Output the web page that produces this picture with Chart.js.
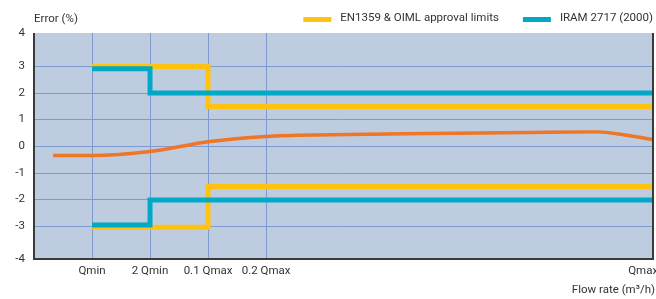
<!DOCTYPE html>
<html>
<head>
<meta charset="utf-8">
<script src="https://cdn.jsdelivr.net/npm/chart.js@4"></script>
<style>
  html, body { margin: 0; padding: 0; background: #fff; }
  #wrap { width: 656px; height: 299px; position: relative; }
</style>
</head>
<body>
<div id="wrap"><canvas id="chart"></canvas></div>
<script>
// ---------------- data ----------------
// x positions are in "grid steps" from the left edge of the plot
const xTickPos = [1, 2, 3, 4, 10.5];
const xTickLabels = ['Qmin', '2 Qmin', '0.1 Qmax', '0.2 Qmax', 'Qmax'];
const X_END = 10.67;

const yTickValues = [-4.24, -3, -2, -1, 0, 1, 2, 3, 4.24];

// EN1359 & OIML approval limits
const enUpperX = [1, 3, X_END];
const enUpperY = [2.98, 1.48, 1.48];
const enLowerX = [1, 3, X_END];
const enLowerY = [-3.05, -1.52, -1.52];

// IRAM 2717 (2000)
const iramUpperX = [1, 2, X_END];
const iramUpperY = [2.9, 1.99, 1.99];
const iramLowerX = [1, 2, X_END];
const iramLowerY = [-2.96, -2.03, -2.03];

// meter error curve
const curveX = [0.33, 1, 2, 3, 4, 5.1, 6.83, 8.55, 9.71, 10.19, X_END];
const curveY = [-0.36, -0.36, -0.21, 0.16, 0.36, 0.42, 0.47, 0.51, 0.53, 0.41, 0.24];

const legendLabels = ['EN1359 & OIML approval limits', 'IRAM 2717 (2000)'];

// ---------------- styles ----------------
const YELLOW = '#FFC20E';
const TEAL = '#00A9C8';
const ORANGE = '#EE7624';
const PLOT_BG = '#BECCE0';
const GRID = '#7F9AD0';
const AXIS = '#3a3a3a';
const TEXT = '#333333';
const FONT = "Roboto, 'Liberation Sans', sans-serif";
const FONT_SIZE = 11.5;

const pts = (xs, ys) => xs.map((x, i) => ({ x: x, y: ys[i] }));

const stepLine = (label, xs, ys, color, order) => ({
  label: label,
  data: pts(xs, ys),
  borderColor: color,
  borderWidth: 5,
  pointRadius: 0,
  stepped: true,
  fill: false,
  order: order
});

// ---------------- plugin: background, borders, titles, legend ----------------
const decor = {
  id: 'decor',
  beforeDatasetsDraw(chart) {
    const { ctx, chartArea: a } = chart;
    ctx.save();
    ctx.fillStyle = PLOT_BG;
    ctx.fillRect(a.left, a.top, a.right - a.left, a.bottom - a.top);
    // grid lines on top of the fill
    const xs = chart.scales.x, ys = chart.scales.y;
    ctx.strokeStyle = GRID;
    ctx.lineWidth = 1;
    ctx.beginPath();
    xTickPos.slice(0, 4).forEach(v => {
      const px = Math.round(xs.getPixelForValue(v)) + 0.5;
      ctx.moveTo(px, a.top); ctx.lineTo(px, a.bottom);
    });
    yTickValues.slice(1, -1).forEach(v => {
      const py = Math.round(ys.getPixelForValue(v)) + 0.5;
      ctx.moveTo(a.left, py); ctx.lineTo(a.right, py);
    });
    ctx.stroke();
    ctx.restore();
  },
  afterDraw(chart) {
    const { ctx, chartArea: a } = chart;
    ctx.save();
    // axis lines
    ctx.strokeStyle = AXIS;
    ctx.lineWidth = 2;
    ctx.beginPath();
    ctx.moveTo(a.left, a.top); ctx.lineTo(a.left, a.bottom);
    ctx.lineTo(a.right, a.bottom); ctx.lineTo(a.right, a.top);
    ctx.stroke();

    ctx.font = FONT_SIZE + 'px ' + FONT;
    ctx.fillStyle = TEXT;
    ctx.textBaseline = 'middle';
    ctx.textAlign = 'left';
    ctx.fillText('Error (%)', a.left, 19);
    ctx.textAlign = 'right';
    ctx.fillText('Flow rate (m\u00b3/h)', 655, 290);

    // legend, right aligned
    const colors = [YELLOW, TEAL];
    let x = 653;
    const boxes = [];
    for (let i = legendLabels.length - 1; i >= 0; i--) {
      const w = ctx.measureText(legendLabels[i]).width;
      const tx = x - w;
      const bx = tx - 9 - 28;
      boxes.push({ i, tx, bx });
      x = bx - 24;
    }
    ctx.textAlign = 'left';
    boxes.forEach(b => {
      ctx.fillStyle = colors[b.i];
      ctx.fillRect(b.bx, 17, 28, 5);
      ctx.fillStyle = TEXT;
      ctx.fillText(legendLabels[b.i], b.tx, 18.5);
    });
    ctx.restore();
  }
};

// ---------------- chart ----------------
new Chart(document.getElementById('chart').getContext('2d'), {
  type: 'line',
  data: {
    datasets: [
      stepLine(legendLabels[0], enUpperX, enUpperY, YELLOW, 2),
      stepLine(legendLabels[0], enLowerX, enLowerY, YELLOW, 2),
      stepLine(legendLabels[1], iramUpperX, iramUpperY, TEAL, 1),
      stepLine(legendLabels[1], iramLowerX, iramLowerY, TEAL, 1),
      {
        label: 'Error',
        data: pts(curveX, curveY),
        borderColor: ORANGE,
        borderWidth: 3.5,
        pointRadius: 0,
        cubicInterpolationMode: 'monotone',
        fill: false,
        order: 0
      }
    ]
  },
  options: {
    responsive: true,
    maintainAspectRatio: false,
    animation: false,
    layout: { padding: { top: 33, right: 3, left: 0, bottom: 0 } },
    plugins: {
      legend: { display: false },
      tooltip: { enabled: false }
    },
    scales: {
      x: {
        type: 'linear',
        min: 0,
        max: X_END,
        afterBuildTicks: s => { s.ticks = xTickPos.map(v => ({ value: v })); },
        afterFit: s => { s.height = 40; s.paddingLeft = 0; s.paddingRight = 0; },
        grid: { display: false, drawTicks: false },
        border: { display: false },
        ticks: {
          autoSkip: false,
          maxRotation: 0,
          padding: 5,
          color: TEXT,
          font: { family: FONT, size: FONT_SIZE },
          callback: (v, i) => xTickLabels[i]
        }
      },
      y: {
        min: yTickValues[0],
        max: yTickValues[yTickValues.length - 1],
        afterBuildTicks: s => { s.ticks = yTickValues.map(v => ({ value: v })); },
        afterFit: s => { s.width = 34; s.paddingTop = 0; s.paddingBottom = 0; },
        grid: { display: false, drawTicks: false },
        border: { display: false },
        ticks: {
          autoSkip: false,
          padding: 9,
          color: TEXT,
          font: { family: FONT, size: FONT_SIZE },
          callback: v => String(Math.round(v))
        }
      }
    }
  },
  plugins: [decor]
});
</script>
</body>
</html>
